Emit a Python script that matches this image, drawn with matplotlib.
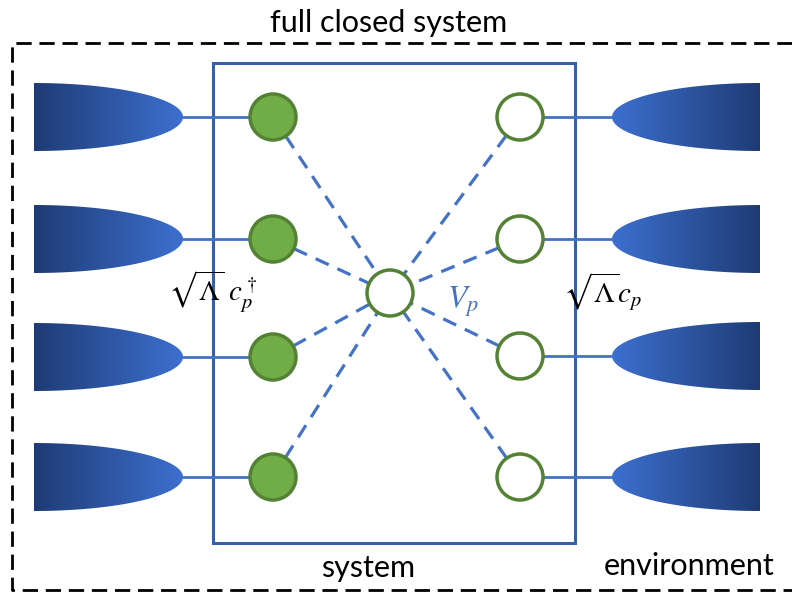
import numpy as np
import matplotlib.pyplot as plt
from matplotlib.patches import Polygon, Circle, Rectangle
from matplotlib.colors import LinearSegmentedColormap

plt.rcParams['mathtext.fontset'] = 'stix'

# node rows (pixel coords of the picture)
left_y = [117, 239, 357, 477]
right_y = [117, 239, 356, 477]
left_x = 273
right_x = 520
center = (390, 293)
node_r = 23

res_left = (34, 183)     # left reservoir: flat edge, tip
res_right = (760, 612)   # right reservoir: flat edge, tip
res_half = 34

BLUE = '#4472c4'
BOX = '#3a5fa6'
GREEN = '#70ad47'
GREEN_EDGE = '#548235'
res_cmap = LinearSegmentedColormap.from_list('res', ['#1f3b75', '#3c70cf'])

fig = plt.figure(figsize=(7.92, 5.92), dpi=100)
ax = fig.add_axes([0, 0, 1, 1])
ax.set_xlim(0, 792)
ax.set_ylim(592, 0)
ax.axis('off')


def reservoir(flat, tip, yc):
    a = tip - flat
    t = np.linspace(-np.pi / 2, np.pi / 2, 80)
    xs = flat + abs(a) * np.cos(t) * np.sign(a)
    ys = yc + res_half * np.sin(t)
    poly = Polygon(np.column_stack([xs, ys]), closed=True, facecolor='none',
                   edgecolor='none')
    ax.add_patch(poly)
    grad = np.linspace(0, 1, 256).reshape(1, -1)
    if a < 0:
        grad = grad[:, ::-1]
    lo, hi = min(flat, tip), max(flat, tip)
    im = ax.imshow(grad, cmap=res_cmap, aspect='auto',
                   extent=(lo, hi, yc + res_half, yc - res_half), zorder=2)
    im.set_clip_path(poly)


# outer dashed box (open on the right)
ax.plot([792, 12, 12, 792], [43, 43, 590, 590], color='black', lw=2,
        dashes=(5.5, 2.8), solid_capstyle='butt', zorder=1)

# system box
ax.add_patch(Rectangle((213, 63), 575 - 213, 543 - 63, fill=False,
                       edgecolor=BOX, lw=2.2, zorder=3))

for y in left_y:
    reservoir(res_left[0], res_left[1], y)
    ax.plot([res_left[1], left_x - node_r], [y, y], color=BLUE, lw=2, zorder=3)
for y in right_y:
    reservoir(res_right[0], res_right[1], y)
    ax.plot([right_x + node_r, res_right[1]], [y, y], color=BLUE, lw=2, zorder=3)

# dashed couplings to the central node
for x, ys in [(left_x, left_y), (right_x, right_y)]:
    for y in ys:
        dx, dy = center[0] - x, center[1] - y
        d = np.hypot(dx, dy)
        ux, uy = dx / d, dy / d
        ax.plot([x + ux * node_r, center[0] - ux * node_r],
                [y + uy * node_r, center[1] - uy * node_r],
                color=BLUE, lw=2.3, dashes=(4.5, 3), zorder=3)

for y in left_y:
    ax.add_patch(Circle((left_x, y), node_r, facecolor=GREEN,
                        edgecolor=GREEN_EDGE, lw=2.5, zorder=4))
for y in right_y:
    ax.add_patch(Circle((right_x, y), node_r, facecolor='white',
                        edgecolor=GREEN_EDGE, lw=2.5, zorder=4))
ax.add_patch(Circle(center, node_r, facecolor='white',
                    edgecolor=GREEN_EDGE, lw=2.5, zorder=4))

# labels
ax.text(389, 23, 'full closed system', ha='center', va='center',
        fontsize=22, family='Lato')
ax.text(368, 568, 'system', ha='center', va='center', fontsize=22,
        family='Lato')
ax.text(689, 566, 'environment', ha='center', va='center', fontsize=22,
        family='Lato')
ax.text(213, 292, r'$\sqrt{\Lambda}\;c_p^\dagger$', ha='center', va='center',
        fontsize=21)
ax.text(603, 292, r'$\sqrt{\Lambda}c_p$', ha='center', va='center',
        fontsize=21)
ax.text(463, 302, r'$V_p$', ha='center', va='center', fontsize=23,
        color=BLUE)

fig.savefig('out.png', dpi=100)
